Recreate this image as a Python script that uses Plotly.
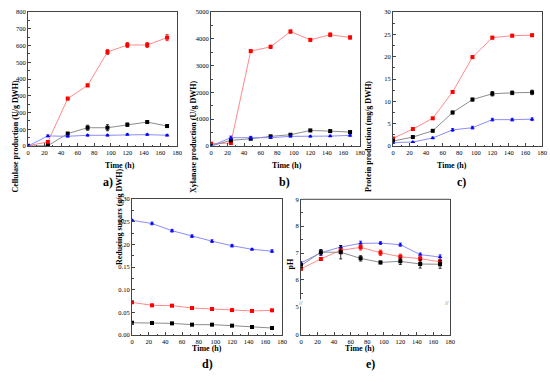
import plotly.graph_objects as go

W, H = 550, 383
time_h = [0, 24, 48, 72, 96, 120, 144, 168]

# a) Cellulase production (U/g DWH)
cel_red = [2, 24, 283, 362, 561, 603, 603, 647]
cel_red_err = [2, 5, 8, 8, 15, 15, 15, 18]
cel_black = [0, 2, 74, 109, 109, 127, 143, 119]
cel_black_err = [1, 2, 8, 15, 18, 10, 8, 6]
cel_blue = [0, 60, 58, 64, 64, 68, 68, 64]
cel_blue_err = [1, 6, 5, 5, 5, 5, 5, 5]

# b) Xylanase production (U/g DWH)
xyl_red = [85, 110, 3540, 3700, 4270, 3960, 4150, 4050]
xyl_red_err = [20, 20, 50, 60, 60, 50, 70, 60]
xyl_black = [0, 210, 270, 360, 420, 580, 555, 520]
xyl_black_err = [5, 30, 30, 40, 30, 40, 40, 40]
xyl_blue = [0, 310, 310, 310, 360, 360, 370, 395]
xyl_blue_err = [5, 60, 50, 30, 30, 30, 30, 30]

# c) Protein production (mg/g DWH)
pro_red = [1.7, 3.8, 6.2, 12.1, 19.9, 24.25, 24.7, 24.8]
pro_red_err = [0.1, 0.2, 0.2, 0.3, 0.3, 0.3, 0.3, 0.3]
pro_black = [1.1, 2.0, 3.4, 7.5, 10.4, 11.7, 11.9, 12.0]
pro_black_err = [0.1, 0.2, 0.2, 0.3, 0.3, 0.5, 0.4, 0.5]
pro_blue = [0.75, 0.9, 1.8, 3.6, 4.1, 5.9, 5.9, 6.0]
pro_blue_err = [0.1, 0.1, 0.2, 0.3, 0.3, 0.3, 0.3, 0.3]

# d) Reducing sugars (g/g DWH)
rs_blue = [0.253, 0.246, 0.230, 0.218, 0.207, 0.197, 0.189, 0.185]
rs_blue_err = [0.002, 0.003, 0.003, 0.003, 0.003, 0.003, 0.002, 0.003]
rs_red = [0.072, 0.0655, 0.0647, 0.0596, 0.0574, 0.055, 0.053, 0.0544]
rs_red_err = [0.002, 0.002, 0.002, 0.002, 0.002, 0.002, 0.002, 0.002]
rs_black = [0.027, 0.0265, 0.0257, 0.0228, 0.0228, 0.0206, 0.0176, 0.0154]
rs_black_err = [0.001, 0.001, 0.002, 0.002, 0.002, 0.001, 0.001, 0.001]

# e) pH
ph_blue = [6.63, 7.01, 7.22, 7.36, 7.37, 7.31, 6.94, 6.85]
ph_blue_err = [0.05, 0.1, 0.06, 0.08, 0.05, 0.06, 0.06, 0.08]
ph_red = [6.41, 6.78, 7.10, 7.21, 7.01, 6.86, 6.79, 6.67]
ph_red_err = [0.05, 0.05, 0.08, 0.1, 0.1, 0.1, 0.1, 0.08]
ph_black = [6.53, 7.03, 7.03, 6.80, 6.65, 6.69, 6.59, 6.58]
ph_black_err = [0.05, 0.1, 0.25, 0.1, 0.05, 0.12, 0.15, 0.15]

RED, PINK = "#ff0000", "#ff8a8a"
BLK, GRY = "#000000", "#8c8c8c"
BLU, LBLU = "#0000ff", "#8c8cff"

FONT = "Liberation Serif"

fig = go.Figure()


def add_series(x, y, err, mcol, lcol, sym, xa, ya):
    fig.add_trace(go.Scatter(
        x=x, y=y, mode="lines+markers",
        line=dict(color=lcol, width=1),
        marker=dict(color=mcol, symbol=sym, size=4),
        error_y=dict(type="data", array=err, color=mcol, thickness=0.8, width=1.5),
        xaxis=xa, yaxis=ya, showlegend=False))


panels = [
    ("x", "y", [(cel_red, cel_red_err, RED, PINK, "square"),
                (cel_black, cel_black_err, BLK, GRY, "square"),
                (cel_blue, cel_blue_err, BLU, LBLU, "triangle-up")]),
    ("x2", "y2", [(xyl_red, xyl_red_err, RED, PINK, "square"),
                  (xyl_black, xyl_black_err, BLK, GRY, "square"),
                  (xyl_blue, xyl_blue_err, BLU, LBLU, "triangle-up")]),
    ("x3", "y3", [(pro_red, pro_red_err, RED, PINK, "square"),
                  (pro_black, pro_black_err, BLK, GRY, "square"),
                  (pro_blue, pro_blue_err, BLU, LBLU, "triangle-up")]),
    ("x4", "y4", [(rs_blue, rs_blue_err, BLU, LBLU, "triangle-up"),
                  (rs_red, rs_red_err, RED, PINK, "square"),
                  (rs_black, rs_black_err, BLK, GRY, "square")]),
    ("x5", "y5", [(ph_blue, ph_blue_err, BLU, LBLU, "triangle-up"),
                  (ph_red, ph_red_err, RED, PINK, "square"),
                  (ph_black, ph_black_err, BLK, GRY, "square")]),
]
for xa, ya, series in panels:
    for y, e, mc, lc, sym in series:
        add_series(time_h, y, e, mc, lc, sym, xa, ya)

# empty trace so the lower (0-5) part of the broken pH axis is created
fig.add_trace(go.Scatter(x=[None], y=[None], xaxis="x5", yaxis="y6", mode="markers",
                         showlegend=False, hoverinfo="skip"))


def px_x(a, b):
    return [a / W, b / W]


def px_y(top, bottom):
    return [1 - bottom / H, 1 - top / H]


tickfont = dict(family=FONT, size=6.5, color="black")
common = dict(showline=True, linecolor="#444444", linewidth=1, ticks="inside",
              ticklen=3, tickwidth=0.8, tickcolor="#444444", showgrid=False,
              zeroline=False, tickfont=tickfont, automargin=False)
minor = dict(ticks="inside", ticklen=1.5, tickcolor="#444444", showgrid=False)

xticks = dict(range=[0, 180], tickvals=list(range(0, 181, 20)), minor=dict(dtick=10, **minor))

layout = dict(
    width=W, height=H, margin=dict(l=0, r=0, t=0, b=0, autoexpand=False),
    paper_bgcolor="white", plot_bgcolor="white",
    font=dict(family=FONT, color="black"),
)

# top row
tops = [(28, 177, "x", "y", [0, 800], 100),
        (211, 360, "x2", "y2", [0, 5000], 1000),
        (393, 542, "x3", "y3", [0, 30], 5)]
for i, (l, r, xa, ya, yr, dt) in enumerate(tops):
    n = "" if i == 0 else str(i + 1)
    layout["xaxis" + n] = dict(domain=px_x(l, r), anchor=ya, mirror=True, **xticks, **common)
    layout["yaxis" + n] = dict(domain=px_y(12, 146), anchor=xa, range=yr,
                               tickvals=[k * dt for k in range(int(yr[1] / dt) + 1)],
                               mirror=True, minor=dict(dtick=dt / 2, **minor), **common)

# d
layout["xaxis4"] = dict(domain=px_x(132, 282), anchor="y4", mirror=True, **xticks, **common)
layout["yaxis4"] = dict(domain=px_y(199, 335), anchor="x4", range=[0, 0.30], dtick=0.05,
                        tickformat=".2f", mirror=True, minor=dict(dtick=0.025, **minor), **common)

# e (broken axis)
layout["xaxis5"] = dict(domain=px_x(301, 450), anchor="y6", mirror=False, **xticks, **common)
layout["yaxis5"] = dict(domain=px_y(199.3, 306.7), anchor="x5", range=[5, 9], dtick=1,
                        mirror=True, minor=dict(dtick=0.5, **minor), **common)
layout["yaxis6"] = dict(domain=px_y(306.7, 335), anchor="x5", range=[0, 5], tickvals=[0],
                        mirror=True, **common)

fig.update_layout(**layout)

shapes = [dict(type="line", xref="paper", yref="paper", x0=301 / W, x1=450 / W,
               y0=1 - 199.3 / H, y1=1 - 199.3 / H, line=dict(color="#444444", width=1))]
fig.update_layout(shapes=shapes)

ann = []
title_font = dict(family=FONT, size=8, color="black")
ytitles = [(8, 79, "<b>Cellulase production (U/g DWH)</b>"),
           (193, 79, "<b>Xylanase production (U/g DWH)</b>"),
           (375, 79, "<b>Protein production (mg/g DWH)</b>"),
           (113, 267, "<b>Reducing sugars (g/g DWH)</b>"),
           (290, 272, "<b>pH</b>")]
for x, y, t in ytitles:
    ann.append(dict(text=t, x=x / W, y=1 - y / H, xref="paper", yref="paper",
                    textangle=-90, showarrow=False, font=title_font))
for x, y in [(103, 165), (287, 165), (469, 165), (207, 355), (377, 355)]:
    ann.append(dict(text="<b>Time (h)</b>", x=x / W, y=1 - y / H, xref="paper", yref="paper",
                    showarrow=False, font=title_font))
for x, y, t in [(101, 182, "a)"), (284, 182, "b)"), (468, 182, "c)"),
                (207, 373, "d)"), (377, 373, "e)")]:
    ann.append(dict(text="<b>" + t + "</b>", x=x / W, y=1 - y / H, xref="paper", yref="paper",
                    showarrow=False, font=dict(family=FONT, size=12, color="black")))
for x in [301, 450]:
    ann.append(dict(text="//", x=x / W, y=1 - 306.7 / H, xref="paper", yref="paper",
                    showarrow=False, bgcolor="white", borderpad=0,
                    font=dict(family=FONT, size=6, color="#444444")))
fig.update_layout(annotations=ann)

fig.write_html("out.html", config={"displayModeBar": False},
               post_script="document.body.style.margin='0';")
